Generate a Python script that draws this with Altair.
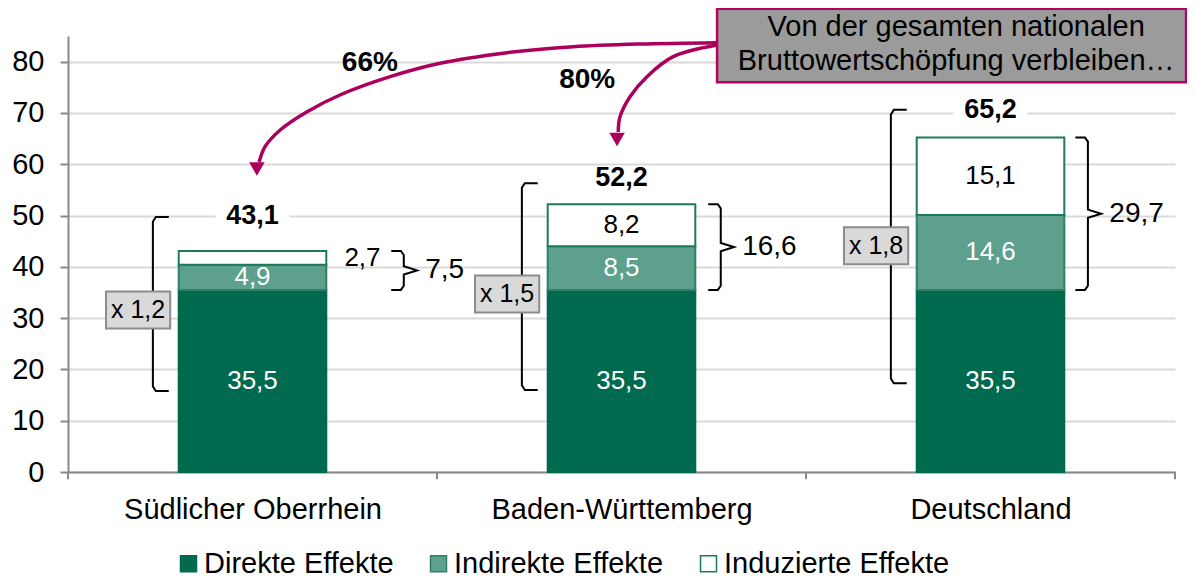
import altair as alt
import pandas as pd

# ---------------- data ----------------
categories = ["Südlicher Oberrhein", "Baden-Württemberg", "Deutschland"]
series = ["Direkte Effekte", "Indirekte Effekte", "Induzierte Effekte"]
direkte = [35.5, 35.5, 35.5]
indirekte = [4.9, 8.5, 14.6]
induzierte = [2.7, 8.2, 15.1]
totals = [43.1, 52.2, 65.2]
sum_ind = [7.5, 16.6, 29.7]
multipliers = ["x 1,2", "x 1,5", "x 1,8"]
y_ticks = [0, 10, 20, 30, 40, 50, 60, 70, 80]
pct_labels = ["66%", "80%"]
callout_lines = ["Von der gesamten nationalen", "Bruttowertschöpfung verbleiben…"]

# annotation anchors (in value units of the y axis / band units of x)
total_level = [49.9, 57.3, 70.6]
bracket_top = [49.7, 56.3, 70.6]
bracket_bottom = [15.8, 16.0, 17.3]
mult_level = [31.6, 34.7, 44.1]
brace_gap = [0.176, 0.035, 0.030]
arrow1_x = [1.759, 1.550, 1.369, 1.190, 1.008, 0.873, 0.737, 0.648, 0.575, 0.534, 0.518]
arrow1_y = [83.70, 83.44, 82.91, 81.75, 79.68, 77.07, 73.50, 70.24, 66.68, 63.42, 60.44]
arrow2_x = [1.759, 1.640, 1.569, 1.523, 1.496, 1.491]
arrow2_y = [83.25, 80.97, 77.07, 73.17, 69.27, 66.29]
head_x = [0.512, 1.488]
head_y = [59.06, 64.82]
pct_x = [0.818, 1.407]
pct_y = [79.7, 76.4]
callout_x = [1.759, 3.03]
callout_y = [76.0, 90.3]
callout_text_x = 2.407
callout_text_y = [85.0, 78.4]

# ---------------- styles ----------------
FONT = "Liberation Sans"
fills = ["#006A4E", "#5CA08D", "#FFFFFF"]
strokes = ["#006A4E", "#2E7F66", "#1E7A5C"]
MAGENTA = "#AD005C"
GREY_AX = "#898989"
BAR_HALF = 0.2

YD = [0, 85]
XD = [0, 3]

label_expr = "[" + ",".join("'" + c + "'" for c in categories) + "][floor(datum.value)]"

AX_X = alt.Axis(values=[0.5, 1.5, 2.5], labelExpr=label_expr, ticks=False, grid=False,
                domainColor=GREY_AX, domainWidth=2, labelFontSize=29, labelColor="#000000",
                labelPadding=23, labelLimit=500, title=None)
AX_Y = alt.Axis(values=y_ticks, grid=True, gridColor="#D9D9D9", gridWidth=2,
                domainColor=GREY_AX, domainWidth=2, tickColor=GREY_AX, tickWidth=2,
                tickSize=8, labelFontSize=29, labelColor="#000000", labelPadding=16,
                title=None)


def X(f):
    return alt.X(f, type="quantitative", scale=alt.Scale(domain=XD, nice=False, zero=False),
                 axis=AX_X, title=None)


def Y(f):
    return alt.Y(f, type="quantitative", scale=alt.Scale(domain=YD, nice=False, zero=False),
                 axis=AX_Y, title=None)


def fmt(v):
    return f"{v:.1f}".replace(".", ",")


# bar table
rows = []
for i, c in enumerate(categories):
    base = 0.0
    for s, vals in zip(series, [direkte, indirekte, induzierte]):
        v = vals[i]
        outside = (s == series[2] and v < 4)
        rows.append(dict(cat=c, i=i, series=s, y0=base, y1=base + v,
                         label=fmt(v),
                         lx=i + 0.5 + (0.298 if outside else 0.0),
                         ly=base + v / 2,
                         tcol="#FFFFFF" if s != series[2] else "#000000"))
        base += v
bars_df = pd.DataFrame(rows)

bars = alt.Chart(bars_df).mark_bar(strokeWidth=2).transform_calculate(
    xa=f"datum.i + 0.5 - {BAR_HALF}", xb=f"datum.i + 0.5 + {BAR_HALF}"
).encode(
    x=X("xa"), x2="xb", y=Y("y0"), y2="y1",
    color=alt.Color("series:N", scale=alt.Scale(domain=series, range=fills),
                    legend=alt.Legend(title=None, orient="none", legendX=106, legendY=513,
                                      direction="horizontal", symbolType="square", symbolSize=256,
                                      symbolStrokeColor="#1E7A5C", symbolStrokeWidth=1.5,
                                      labelFontSize=29, labelColor="#000000", labelOffset=1,
                                      columnPadding=30, labelLimit=500)),
    stroke=alt.Stroke("series:N", scale=alt.Scale(domain=series, range=strokes), legend=None),
)

# tick marks at band boundaries
ticks_df = pd.DataFrame({"x": [0, 1, 2, 3]})
ticks = alt.Chart(ticks_df).mark_rule(color=GREY_AX, strokeWidth=2).transform_calculate(
    y0="0", y1="-1.4").encode(x=X("x"), y=Y("y0:Q"), y2="y1:Q")

seg_labels = alt.Chart(bars_df).mark_text(fontSize=26, baseline="middle", align="center").encode(
    x=X("lx"), y=Y("ly"), text="label:N",
    color=alt.Color("tcol:N", scale=None))

tot_df = pd.DataFrame({"i": [0, 1, 2], "lvl": total_level, "label": [fmt(v) for v in totals]})
tot_bg = alt.Chart(tot_df).mark_rect(color="#FFFFFF").transform_calculate(
    xa="datum.i + 0.4", xb="datum.i + 0.6", ya="datum.lvl - 1.6", yb="datum.lvl + 1.6"
).encode(x=X("xa:Q"), x2="xb:Q", y=Y("ya:Q"), y2="yb:Q")
tot_text = alt.Chart(tot_df).mark_text(fontSize=27, fontWeight="bold", baseline="middle",
                                       color="#000000").transform_calculate(
    xc="datum.i + 0.5").encode(x=X("xc:Q"), y=Y("lvl"), text="label:N")

# left brackets
br_rows = []
for i in range(3):
    c = i + 0.5
    xv = c - 0.27
    xs = c - 0.227
    t, b = bracket_top[i], bracket_bottom[i]
    pts = [(xs, t), (xv + 0.008, t), (xv, t - 0.9), (xv, b + 0.9), (xv + 0.008, b), (xs, b)]
    for k, (px, py) in enumerate(pts):
        br_rows.append(dict(g=i, o=k, x=px, y=py))
br_df = pd.DataFrame(br_rows)
brackets = alt.Chart(br_df).mark_line(color="#000000", strokeWidth=2).encode(
    x=X("x"), y=Y("y"), detail="g:N", order="o:Q")

mult_df = pd.DataFrame({"i": [0, 1, 2], "lvl": mult_level, "label": multipliers})
mult_box = alt.Chart(mult_df).mark_rect(fill="#D9D9D9", stroke="#8C8C8C", strokeWidth=2).transform_calculate(
    xa="datum.i + 0.5 - 0.31 - 0.087", xb="datum.i + 0.5 - 0.31 + 0.087",
    ya="datum.lvl - 3.6", yb="datum.lvl + 3.6"
).encode(x=X("xa:Q"), x2="xb:Q", y=Y("ya:Q"), y2="yb:Q")
mult_text = alt.Chart(mult_df).mark_text(fontSize=25, baseline="middle", color="#000000").transform_calculate(
    xc="datum.i + 0.5 - 0.31").encode(x=X("xc:Q"), y=Y("lvl"), text="label:N")

# right braces
bc_rows = []
bl_rows = []
for i in range(3):
    c = i + 0.5
    xl = c + BAR_HALF + brace_gap[i]
    xv = xl + 0.034
    xt = xv + 0.036
    t = totals[i]
    b = direkte[i]
    m = (t + b) / 2
    pts = [(xl, t), (xv - 0.008, t), (xv, t - 0.8), (xv, m + 0.8), (xt, m), (xv, m - 0.8),
           (xv, b + 0.8), (xv - 0.008, b), (xl, b)]
    for k, (px, py) in enumerate(pts):
        bc_rows.append(dict(g=i, o=k, x=px, y=py))
    bl_rows.append(dict(x=xt + 0.022, y=m, label=fmt(sum_ind[i])))
bc_df = pd.DataFrame(bc_rows)
braces = alt.Chart(bc_df).mark_line(color="#000000", strokeWidth=2).encode(
    x=X("x"), y=Y("y"), detail="g:N", order="o:Q")
brace_labels = alt.Chart(pd.DataFrame(bl_rows)).mark_text(
    fontSize=28, align="left", baseline="middle", color="#000000").encode(
    x=X("x"), y=Y("y"), text="label:N")

# arrows
ar_rows = []
for g, (xs_, ys_) in enumerate([(arrow1_x, arrow1_y), (arrow2_x, arrow2_y)]):
    for k, (px, py) in enumerate(zip(xs_, ys_)):
        ar_rows.append(dict(g=g, o=k, x=px, y=py))
arrows = alt.Chart(pd.DataFrame(ar_rows)).mark_line(
    color=MAGENTA, strokeWidth=3.5, interpolate="catmull-rom").encode(
    x=X("x"), y=Y("y"), detail="g:N", order="o:Q")
heads = alt.Chart(pd.DataFrame({"x": head_x, "y": head_y})).mark_point(
    shape="triangle-down", filled=True, size=240, color=MAGENTA, opacity=1).encode(
    x=X("x"), y=Y("y"))

pct = alt.Chart(pd.DataFrame({"x": pct_x, "y": pct_y, "label": pct_labels})).mark_text(
    fontSize=28, fontWeight="bold", baseline="middle", color="#000000").encode(
    x=X("x"), y=Y("y"), text="label:N")

callout_box = alt.Chart(pd.DataFrame({"x0": [callout_x[0]], "x1": [callout_x[1]],
                                      "y0": [callout_y[0]], "y1": [callout_y[1]]})).mark_rect(
    fill="#9B9B9B", stroke="#B7005F", strokeWidth=2.5).encode(
    x=X("x0"), x2="x1", y=Y("y0"), y2="y1")
callout_text = alt.Chart(pd.DataFrame({"x": [callout_text_x] * 2, "y": callout_text_y,
                                       "label": callout_lines})).mark_text(
    fontSize=29, baseline="alphabetic", align="center", color="#000000").encode(
    x=X("x"), y=Y("y"), text="label:N")

chart = alt.layer(
    bars, ticks, seg_labels, tot_bg, tot_text, brackets, mult_box, mult_text,
    braces, brace_labels, arrows, heads, pct, callout_box, callout_text
).properties(
    width=1107, height=436,
    autosize=alt.AutoSizeParams(type="none"),
    padding={"left": 60, "top": 28, "right": 12, "bottom": 106},
).configure(font=FONT).configure_view(stroke=None)

chart.save("out.html", embed_options={"renderer": "svg", "actions": False})
